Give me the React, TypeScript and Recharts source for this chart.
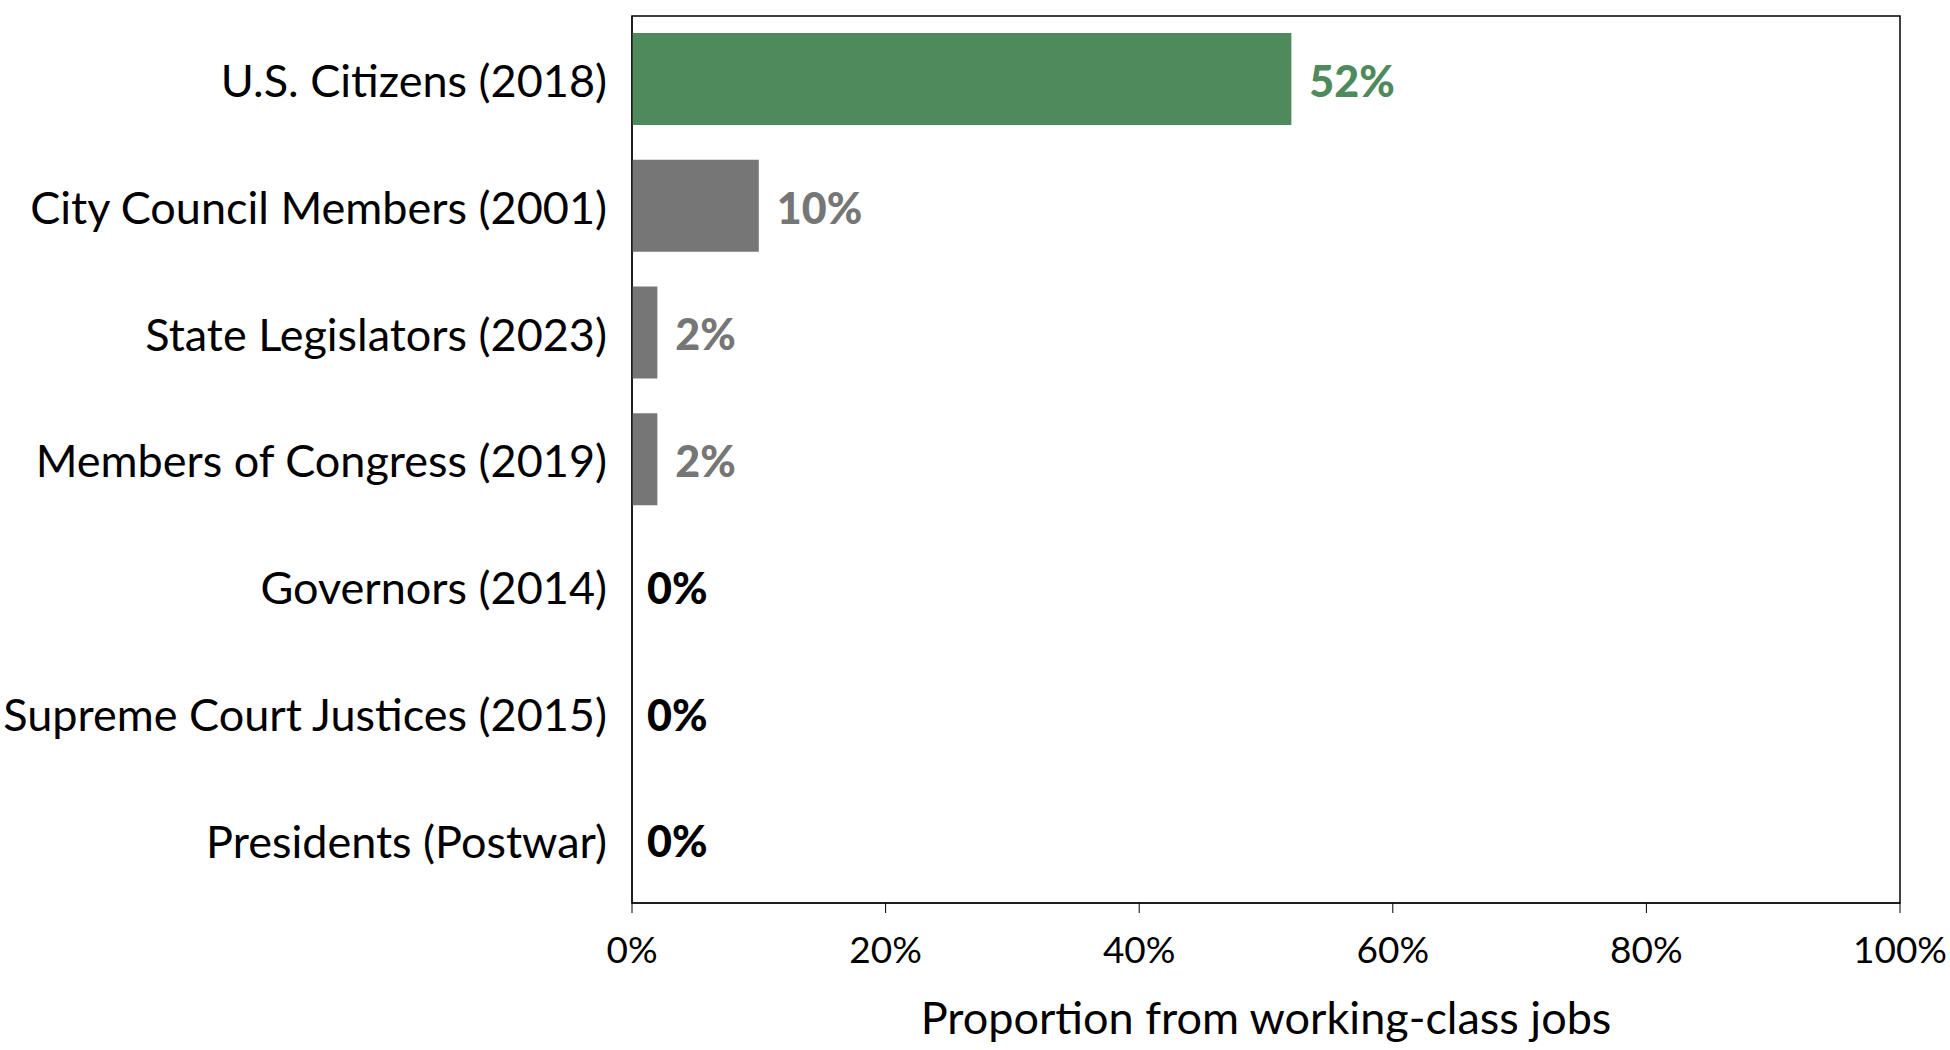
import React from 'react'

import {
    BarChart,
    Bar,
    XAxis,
    YAxis,
    Cell,
    LabelList,
    Label,
    ReferenceArea,
} from 'recharts';

const groups = [
    'U.S. Citizens (2018)',
    'City Council Members (2001)',
    'State Legislators (2023)',
    'Members of Congress (2019)',
    'Governors (2014)',
    'Supreme Court Justices (2015)',
    'Presidents (Postwar)',
];
const shares = [52, 10, 2, 2, 0, 0, 0];
const barColors = ['#4e8a5c', '#767676', '#767676', '#767676', '#767676', '#767676', '#767676'];
const labelColors = ['#4e8a5c', '#767676', '#767676', '#767676', '#000000', '#000000', '#000000'];
const xTicks = [0, 20, 40, 60, 80, 100];

const data = groups.map((name, i) => ({ name, share: shares[i] }));

const font = 'Lato, "Noto Sans", sans-serif';

// value label right of each bar, coloured per row
const ValueLabel = (props: any) => {
    const { x, y, width, height, value, index } = props;
    return (
        <text
            x={x + width + (value === 0 ? 14 : 18)}
            y={y + height / 2}
            dy="0.42em"
            fill={labelColors[index]}
            fontFamily={font}
            fontWeight={900}
            fontSize={43}
        >
            {`${value}%`}
        </text>
    );
};

const App: React.FC = () => {
    return (
        <div style={{ position: 'absolute', left: 0, top: 0, background: '#fff' }}>
          <BarChart
            width={1950}
            height={1050}
            data={data}
            layout="vertical"
            barSize={92}
            margin={{ top: 16, right: 50, left: 0, bottom: 0 }}
          >
            <XAxis
              type="number"
              domain={[0, 100]}
              ticks={xTicks}
              tickFormatter={(v) => `${v}%`}
              height={147}
              tickSize={10}
              tickMargin={24}
              stroke="#000"
              tick={{ fill: '#000', fontSize: 37, fontFamily: font }}
            >
              <Label
                value="Proportion from working-class jobs"
                position="insideBottom"
                offset={16}
                fill="#000"
                fontSize={45}
                fontFamily={font}
              />
            </XAxis>
            <YAxis
              type="category"
              dataKey="name"
              width={632}
              tickLine={false}
              tickMargin={19}
              stroke="#000"
              tick={{ fill: '#000', fontSize: 45, fontFamily: font, dy: 2 }}
            />
            <ReferenceArea x1={0} x2={100} fill="none" stroke="#000" strokeWidth={1.5} />
            <Bar dataKey="share" minPointSize={1} isAnimationActive={false}>
              {data.map((d, i) => (
                <Cell key={d.name} fill={d.share === 0 ? 'none' : barColors[i]} />
              ))}
              <LabelList dataKey="share" content={<ValueLabel />} />
            </Bar>
          </BarChart>
        </div>
      );
}

export default App
